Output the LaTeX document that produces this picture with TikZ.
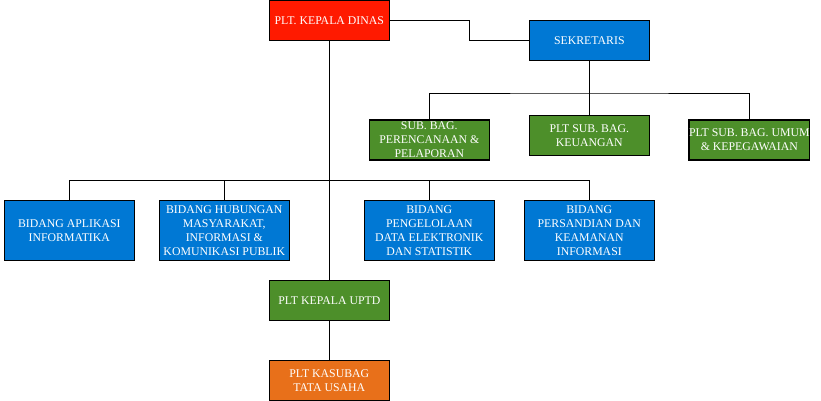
\documentclass[tikz,border=0pt]{standalone}
\usepackage{fontspec}
\setmainfont{Liberation Serif}
\usepackage{tikz}
\usetikzlibrary{positioning}
\definecolor{kred}{HTML}{FF1A00}
\definecolor{kblue}{HTML}{0078D4}
\definecolor{kgreen}{HTML}{4D8F2A}
\definecolor{korange}{HTML}{E8701A}
\tikzset{unit/.style = {rectangle, draw=black, line width=1.1pt, text=white, align=center,
                        font=\fontsize{11.8}{14}\selectfont, inner sep=0,
                        minimum width=120, minimum height=40}}
\tikzset{bidang/.style = {unit, fill=kblue, minimum width=130, minimum height=60}}
\tikzset{link/.style = {draw=black, line width=0.9pt}}

\begin{document}
\begin{tikzpicture}[x=1pt, y=-1pt]
      \useasboundingbox (0,0) rectangle (821,401);
      \node [unit, fill=kred] (kadis) at (329.3, 20.2) {PLT. KEPALA DINAS};
      \node [unit, fill=kblue] (sekre) at (589.3, 40.3) {SEKRETARIS};
      \node [unit, fill=kgreen] (sub1) at (429.3, 140) {SUB. BAG.\\PERENCANAAN \&\\PELAPORAN};
      \node [unit, fill=kgreen] (sub2) at (589.3, 135.3) {PLT SUB. BAG.\\KEUANGAN};
      \node [unit, fill=kgreen] (sub3) at (749.3, 140) {PLT SUB. BAG. UMUM\\\& KEPEGAWAIAN};
      \node [bidang] (bid1) at (69.3, 230.3) {BIDANG APLIKASI\\INFORMATIKA};
      \node [bidang] (bid2) at (224.3, 230.3) {BIDANG HUBUNGAN\\MASYARAKAT,\\INFORMASI \&\\KOMUNIKASI PUBLIK};
      \node [bidang] (bid3) at (429.3, 230.3) {BIDANG\\PENGELOLAAN\\DATA ELEKTRONIK\\DAN STATISTIK};
      \node [bidang] (bid4) at (589.3, 230.3) {BIDANG\\PERSANDIAN DAN\\KEAMANAN\\INFORMASI};
      \node [unit, fill=kgreen] (uptd) at (329.3, 300.3) {PLT KEPALA UPTD};
      \node [unit, fill=korange] (tu) at (329.3, 380.3) {PLT KASUBAG\\TATA USAHA};
      \coordinate (sbus) at (589.3, 93);
      \coordinate (bbus) at (329.3, 180.3);
      \draw [link] (kadis.east) -- ++(80,0) |- (sekre.west);
      \draw [link] (sekre) -- (sub2);
      \draw [link] (sub1.north) |- (sbus) -| (sub3.north);
      \draw [link] (kadis) -- (uptd);
      \draw [link] (bid1.north) |- (bbus) -| (bid4.north);
      \draw [link] (bid2.north) -- (bid2.north |- bbus);
      \draw [link] (bid3.north) -- (bid3.north |- bbus);
      \draw [link] (uptd) -- (tu);
    \end{tikzpicture}
\end{document}
